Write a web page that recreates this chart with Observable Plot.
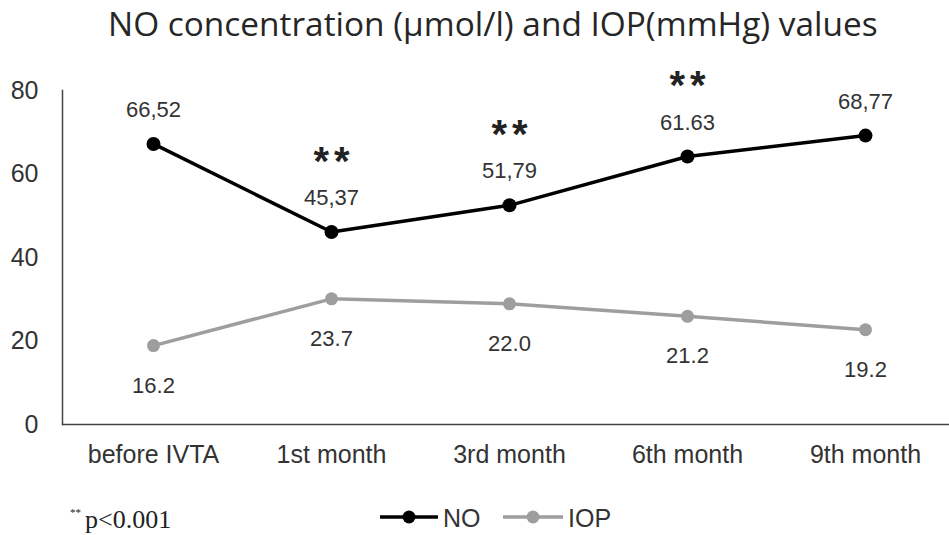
<!DOCTYPE html>
<html>
<head>
<meta charset="utf-8">
<script src="https://cdn.jsdelivr.net/npm/d3@7"></script>
<script src="https://cdn.jsdelivr.net/npm/@observablehq/plot@0.6"></script>
<style>
  html, body { margin: 0; padding: 0; background: white; }
  body { position: relative; width: 949px; height: 535px; overflow: hidden; }
  #title { position: absolute; left: 108px; top: 7px; font-family: "Open Sans", sans-serif; font-size: 33.4px; line-height: 33px; color: #262626; white-space: nowrap; }
  #chart { position: absolute; left: 0; top: 60px; }
  #legend { position: absolute; left: 0; top: 480px; }
</style>
</head>
<body>
<div id="title">NO concentration (µmol/l) and IOP(mmHg) values</div>
<div id="chart"></div>
<svg id="legend" width="949" height="55" xmlns="http://www.w3.org/2000/svg"></svg>
<script>
const categories = ["before IVTA", "1st month", "3rd month", "6th month", "9th month"];
const noValues = [67.2, 46.1, 52.5, 64.2, 69.2];
const iopValues = [18.9, 30.1, 28.9, 25.9, 22.7];
const noLabels = ["66,52", "45,37", "51,79", "61.63", "68,77"];
const iopLabels = ["16.2", "23.7", "22.0", "21.2", "19.2"];
const significant = [false, true, true, true, false];
const yTicks = [0, 20, 40, 60, 80];
const seriesNames = ["NO", "IOP"];
const seriesColors = ["#000000", "#9e9e9e"];

const rows = categories.map((c, i) => ({
  cat: c, no: noValues[i], iop: iopValues[i],
  noLabel: noLabels[i], iopLabel: iopLabels[i], sig: significant[i]
}));

const plot = Plot.plot({
  width: 949, height: 420,
  marginLeft: 62, marginRight: 0, marginTop: 30, marginBottom: 56,
  x: {type: "point", domain: categories, range: [152, 865], padding: 0, label: null},
  y: {domain: [0, 80], label: null},
  style: {fontFamily: "'Liberation Sans', Arial, sans-serif", fontSize: "25px", color: "#333", background: "white", overflow: "visible"},
  marks: [
    Plot.axisY({ticks: yTicks, tickSize: 0, tickPadding: 24, fontSize: 25, label: null}),
    Plot.axisX({tickSize: 0, tickPadding: 21, fontSize: 25, label: null}),
    Plot.frame({anchor: "left", stroke: "#444", strokeWidth: 1.5}),
    Plot.ruleY([0], {stroke: "#444", strokeWidth: 1.5}),
    Plot.line(rows, {x: "cat", y: "iop", stroke: seriesColors[1], strokeWidth: 3.5}),
    Plot.dot(rows, {x: "cat", y: "iop", r: 6.5, fill: seriesColors[1], stroke: "none"}),
    Plot.line(rows, {x: "cat", y: "no", stroke: seriesColors[0], strokeWidth: 3.5}),
    Plot.dot(rows, {x: "cat", y: "no", r: 7, fill: seriesColors[0], stroke: "none"}),
    Plot.text(rows, {x: "cat", y: "no", text: "noLabel", dy: -34, fontSize: 22, fill: "#333"}),
    Plot.text(rows, {x: "cat", y: "iop", text: "iopLabel", dy: 40, fontSize: 22, fill: "#333"}),
    Plot.text(rows.filter(d => d.sig), {x: "cat", y: "no", text: () => "**", dy: -70, dx: 2.5, fontSize: 40, fill: "#222"})
  ]
});
document.getElementById("chart").appendChild(plot);
d3.select(plot).selectAll("text").filter(function() { return this.textContent === "**"; })
  .style("letter-spacing", "5px").style("font-weight", "bold");

// legend + footnote
const lg = d3.select("#legend");
const items = [{x0: 380, x1: 438, tx: 443}, {x0: 503, x1: 563, tx: 568}];
seriesNames.forEach((name, i) => {
  const it = items[i];
  lg.append("line").attr("x1", it.x0).attr("x2", it.x1).attr("y1", 37).attr("y2", 37)
    .attr("stroke", seriesColors[i]).attr("stroke-width", 3.5);
  lg.append("circle").attr("cx", (it.x0 + it.x1) / 2).attr("cy", 37).attr("r", 6.5).attr("fill", seriesColors[i]);
  lg.append("text").attr("x", it.tx).attr("y", 46.5).attr("font-family", "'Liberation Sans', Arial, sans-serif")
    .attr("font-size", 25).attr("fill", "#333").text(name);
});
lg.append("text").attr("x", 70).attr("y", 36).attr("font-family", "'Liberation Serif', serif")
  .attr("font-size", 11).attr("fill", "#222").text("**");
lg.append("text").attr("x", 85).attr("y", 48).attr("font-family", "'Liberation Serif', serif")
  .attr("font-size", 26).attr("fill", "#222").text("p<0.001");
</script>
</body>
</html>
